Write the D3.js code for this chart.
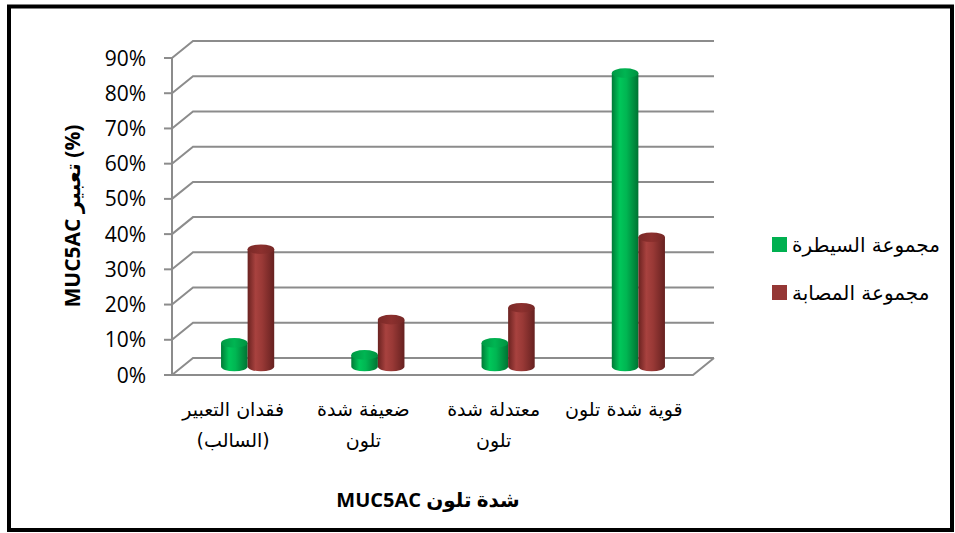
<!DOCTYPE html>
<html>
<head>
<meta charset="utf-8">
<script src="https://cdn.jsdelivr.net/npm/d3@7/dist/d3.min.js"></script>
<style>
  html, body { margin: 0; padding: 0; background: #fff; }
  svg { display: block; }
</style>
</head>
<body>
<svg id="chart" width="955" height="533"></svg>
<script>
// Categories (MUC5AC staining intensity) and series (groups)
const categories = ["فقدان التعبير\n(السالب)", "ضعيفة شدة\nتلون", "معتدلة شدة\nتلون", "قوية شدة تلون"];
const seriesNames = ["مجموعة السيطرة", "مجموعة المصابة"];
const controlValues = [0.067, 0.033, 0.067, 0.833];
const infectedValues = [0.333, 0.133, 0.167, 0.367];
const yTicks = [0, 0.1, 0.2, 0.3, 0.4, 0.5, 0.6, 0.7, 0.8, 0.9];
const yTitle = "MUC5AC تعبير (%)";
const xTitle = "شدة تلون MUC5AC";

const seriesValues = [controlValues, infectedValues];
const colors = ["#00b050", "#953735"];

const svg = d3.select("#chart");

// outer frame
svg.append("rect")
  .attr("x", 9).attr("y", 6.5).attr("width", 943).attr("height", 523.5)
  .attr("fill", "#fff").attr("stroke", "#000").attr("stroke-width", 4);

// front plane geometry and depth offset of the 3D box
const x = d3.scaleBand().domain(categories).range([172, 693]).paddingInner(0).paddingOuter(0);
const y = d3.scaleLinear().domain([0, 0.9]).range([375, 58]);
const depth = { dx: 21, dy: -17 };

const xs = d3.scaleBand().domain(seriesNames).range([0, x.bandwidth()]).paddingInner(0).paddingOuter(1.45);

// gradients for cylinder bodies and caps
const defs = svg.append("defs");
const bodyStops = [
  [[0, "#007a37"], [0.3, "#00c75a"], [0.55, "#00b652"], [1, "#007333"]],
  [[0, "#6a2220"], [0.3, "#a8423f"], [0.55, "#993936"], [1, "#662120"]]
];
const topStops = [
  [[0, "#009844"], [0.5, "#00b552"], [1, "#009040"]],
  [[0, "#7a2927"], [0.5, "#8c302e"], [1, "#762826"]]
];
bodyStops.forEach((stops, i) => {
  const g = defs.append("linearGradient").attr("id", "body" + i)
    .attr("x1", "0%").attr("x2", "100%").attr("y1", "0%").attr("y2", "0%");
  stops.forEach(s => g.append("stop").attr("offset", s[0]).attr("stop-color", s[1]));
});
topStops.forEach((stops, i) => {
  const g = defs.append("linearGradient").attr("id", "top" + i)
    .attr("x1", "0%").attr("x2", "100%").attr("y1", "0%").attr("y2", "0%");
  stops.forEach(s => g.append("stop").attr("offset", s[0]).attr("stop-color", s[1]));
});

const gridColor = "#8c8c8c";
const grid = svg.append("g").attr("stroke", gridColor).attr("stroke-width", 2).attr("fill", "none");

// back-wall gridlines with their diagonal link to the front axis
yTicks.forEach(t => {
  const yf = y(t), yb = y(t) + depth.dy;
  const x0 = x.range()[0], x1 = x.range()[1];
  grid.append("path")
    .attr("d", `M${x0},${yf} L${x0 + depth.dx},${yb} L${x1 + depth.dx},${yb}`);
  grid.append("line").attr("x1", x0 - 8).attr("x2", x0).attr("y1", yf).attr("y2", yf);
});
// front vertical axis
grid.append("line").attr("x1", 172).attr("x2", 172).attr("y1", y(0)).attr("y2", y(0.9));
// floor front edge and right edge
grid.append("path")
  .attr("d", `M${x.range()[0]},${y(0)} L${x.range()[1]},${y(0)} L${x.range()[1] + depth.dx},${y(0) + depth.dy}`);

// y tick labels
svg.append("g").selectAll("text").data(yTicks).join("text")
  .attr("x", 146).attr("y", d => y(d))
  .attr("dy", "0.36em")
  .attr("text-anchor", "end")
  .attr("font-family", "'Open Sans', sans-serif")
  .attr("font-size", 21)
  .attr("fill", "#000")
  .text(d => Math.round(d * 100) + "%");

// cylinders sit at half depth
const ry = 4.8;
const bars = svg.append("g");
categories.forEach((c, ci) => {
  seriesNames.forEach((s, si) => {
    const v = seriesValues[si][ci];
    const left = x(c) + xs(s) + depth.dx / 2;
    const w = xs.bandwidth();
    const right = left + w;
    const cx = left + w / 2;
    const y0 = y(0) + depth.dy / 2;
    const yt = y(v) + depth.dy / 2;
    const rx = w / 2;
    bars.append("path")
      .attr("d", `M${left},${yt} L${left},${y0} A${rx},${ry} 0 0 0 ${right},${y0} L${right},${yt} Z`)
      .attr("fill", `url(#body${si})`);
    bars.append("ellipse")
      .attr("cx", cx).attr("cy", yt).attr("rx", rx).attr("ry", ry)
      .attr("fill", `url(#top${si})`);
  });
});

// category labels
const catG = svg.append("g")
  .attr("font-family", "'DejaVu Sans', sans-serif")
  .attr("font-size", 19)
  .attr("fill", "#000")
  .attr("text-anchor", "middle");
categories.forEach(c => {
  const lines = c.split("\n");
  const cx = x(c) + x.bandwidth() / 2 - 4;
  const t = catG.append("text").attr("x", cx).attr("y", 416);
  lines.forEach((ln, i) => {
    t.append("tspan").attr("x", cx).attr("dy", i === 0 ? 0 : 31).text(ln);
  });
});

// axis titles
svg.append("text")
  .attr("transform", "translate(80,216) rotate(-90)")
  .attr("text-anchor", "middle")
  .attr("font-family", "'Open Sans', 'DejaVu Sans', sans-serif")
  .attr("font-weight", "bold")
  .attr("font-size", 21)
  .text(yTitle);

svg.append("text")
  .attr("x", 428).attr("y", 507)
  .attr("text-anchor", "middle")
  .attr("direction", "rtl")
  .attr("font-family", "'Open Sans', 'DejaVu Sans', sans-serif")
  .attr("font-weight", "bold")
  .attr("font-size", 20)
  .text(xTitle);

// legend
const legend = svg.append("g");
seriesNames.forEach((s, i) => {
  const ly = 237 + i * 48;
  legend.append("rect").attr("x", 772).attr("y", ly).attr("width", 15).attr("height", 15).attr("fill", colors[i]);
  legend.append("text")
    .attr("x", 792).attr("y", ly + 7.5).attr("dy", "0.36em")
    .attr("font-family", "'DejaVu Sans', sans-serif")
    .attr("font-size", 20)
    .attr("fill", "#000")
    .text(s);
});
</script>
</body>
</html>
